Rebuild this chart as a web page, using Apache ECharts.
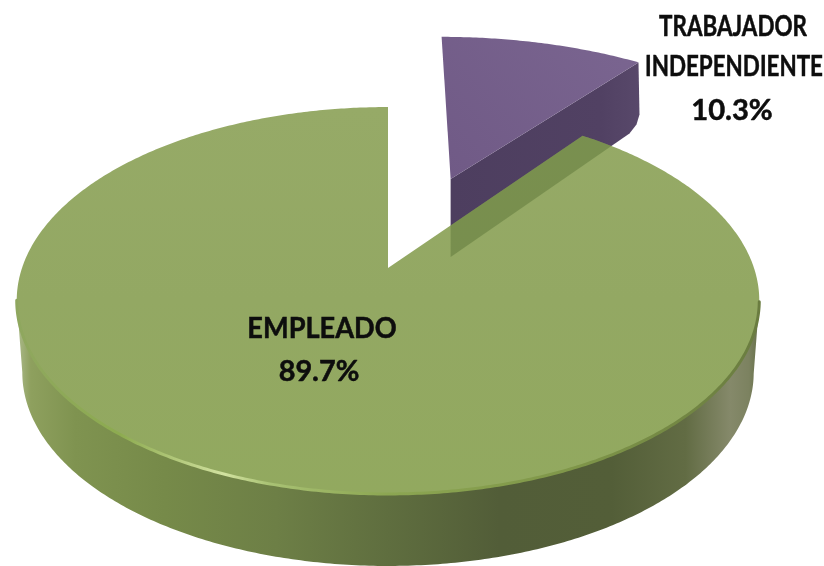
<!DOCTYPE html>
<html><head><meta charset="utf-8">
<style>html,body{margin:0;padding:0;background:#fff}#c{width:824px;height:566px}</style>
<script src="https://cdn.jsdelivr.net/npm/echarts@6/dist/echarts.min.js"></script>
</head><body><div id="c"></div>
<script>
const categories = ["TRABAJADOR\nINDEPENDIENTE", "EMPLEADO"];
const values = [10.3, 89.7];
const percentLabels = ["10.3%", "89.7%"];

const G = echarts.graphic;
const V = {cx:388, cy:268, R:366, Ry:188, k:0.168, depth:72, shrink:0.985, offset:[0.186,-0.515], gain:[1.08,1.03]};
const total = values.reduce((a,b)=>a+b,0);
const LG = (x0,y0,x1,y1,stops)=>new G.LinearGradient(x0,y0,x1,y1,stops.map(s=>({offset:s[0],color:s[1]})),true);

function project(u,v){ const w = 1 - V.k*v; return [V.cx + V.R*u/w, V.cy + V.Ry*v/w]; }
function ringPoint(a,ou,ov){ return project(ou+Math.sin(a), ov-Math.cos(a)); }
function arc(a0,a1,ou,ov){ const n=Math.max(4,Math.ceil(Math.abs(a1-a0)/0.01)), p=[];
  for(let i=0;i<=n;i++) p.push(ringPoint(a0+(a1-a0)*i/n,ou,ov)); return p; }
function lower(p){ return [V.cx+(p[0]-V.cx)*V.shrink, p[1]+V.depth]; }
function sliceAngles(i,val){ let s=0; for(let j=0;j<i;j++) s+=values[j]; return [s/total*2*Math.PI,(s+val)/total*2*Math.PI]; }

function renderItem(params, api){
  const i = params.dataIndex, val = api.value(0);
  const [a0,a1] = sliceAngles(i,val);
  const ch = [];
  const lines = categories[i].split("\n").concat(percentLabels[i]);
  const txt = (s,x,y,sx)=>({type:'text',z2:20,x,y,scaleX:sx,
    style:{text:s,fill:'#0d0d0d',stroke:'#0d0d0d',lineWidth:0.5,font:'bold 28px Lato',align:'center',verticalAlign:'middle'}});
  const [g0,g1] = sliceAngles(1,values[1]);
  const faceGreen = [project(0,0)].concat(arc(g0,g1,0,0));
  if(i===0){
    const ou=V.offset[0], ov=V.offset[1];
    const apex=project(ou,ov);
    const rim=arc(a0,a1,ou,ov).map(p=>[apex[0]+(p[0]-apex[0])*V.gain[0], apex[1]+(p[1]-apex[1])*V.gain[1]]);
    const corner=rim[rim.length-1];
    const ab=[apex[0],apex[1]+78];
    const wall=[apex,corner,[corner[0]+1,corner[1]+52],[corner[0]-2,corner[1]+62],[corner[0]-9,corner[1]+71],ab];
    const wallFill=LG(apex[0],0,corner[0],0,[[0,'#4d3e5f'],[0.8,'#514163'],[1,'#58486a']]);
    ch.push({type:'polygon',z2:1,shape:{points:wall},style:{fill:wallFill}});
    ch.push({type:'polygon',z2:2,shape:{points:[apex].concat(rim)},
      style:{fill:LG(apex[0],apex[1],corner[0],corner[1]-50,[[0,'#705a86'],[1,'#7b6691']])}});
    ch.push({type:'polygon',z2:8,shape:{points:wall},style:{fill:'#3f5a20',opacity:0.33},
      clipPath:{type:'polygon',shape:{points:faceGreen}}});
    ch.push(txt(lines[0],733,27,0.8), txt(lines[1],734,67,0.8), txt(lines[2],732,111,1.04));
  } else {
    const rim=arc(a0,a1,0,0), apex=project(0,0);
    const pick=(lo,hi)=>rim.filter((p,n,all)=>{const t=a0+(a1-a0)*n/(all.length-1);return t>lo&&t<hi;});
    const edge=pick(1.745,4.55);
    const band=edge.concat(edge.slice().reverse().map(lower));
    ch.push({type:'polygon',z2:3,shape:{points:band},style:{fill:LG(16,0,760,0,[
      [0,'#aebc8e'],[0.02,'#8ea05e'],[0.08,'#7f9350'],[0.2,'#768a49'],[0.35,'#6d7f46'],[0.5,'#5f6e3f'],
      [0.65,'#525d38'],[0.8,'#535e38'],[0.9,'#626c44'],[0.96,'#85896a'],[0.985,'#7c8260'],[1,'#656f48']])}});
    ch.push({type:'polygon',z2:5,shape:{points:[apex].concat(rim)},
      style:{fill:LG(0,107,0,493,[[0,'#96aa67'],[0.5,'#93a863'],[1,'#92a95f']])}});
    ch.push({type:'polyline',z2:6,shape:{points:edge},style:{fill:null,lineWidth:3,lineCap:'round',stroke:LG(16,0,760,0,[
      [0,'#8fa75f'],[0.14,'#8dab50'],[0.28,'#d2e2a0'],[0.34,'#a9c274'],[0.5,'#8ca652'],[0.75,'#7f9649'],[1,'#6a7c40']])}});
    ch.push(txt(lines[0],322,329,0.97), txt(lines[1],319,372,1.03));
  }
  return {type:'group',children:ch};
}

const chart = echarts.init(document.getElementById('c'),null,{renderer:'canvas'});
chart.setOption({
  animation:false,
  series:[{type:'custom',coordinateSystem:'none',renderItem,silent:true,
    data:values.map((v,i)=>({name:categories[i],value:[v]}))}]
});
</script></body></html>
